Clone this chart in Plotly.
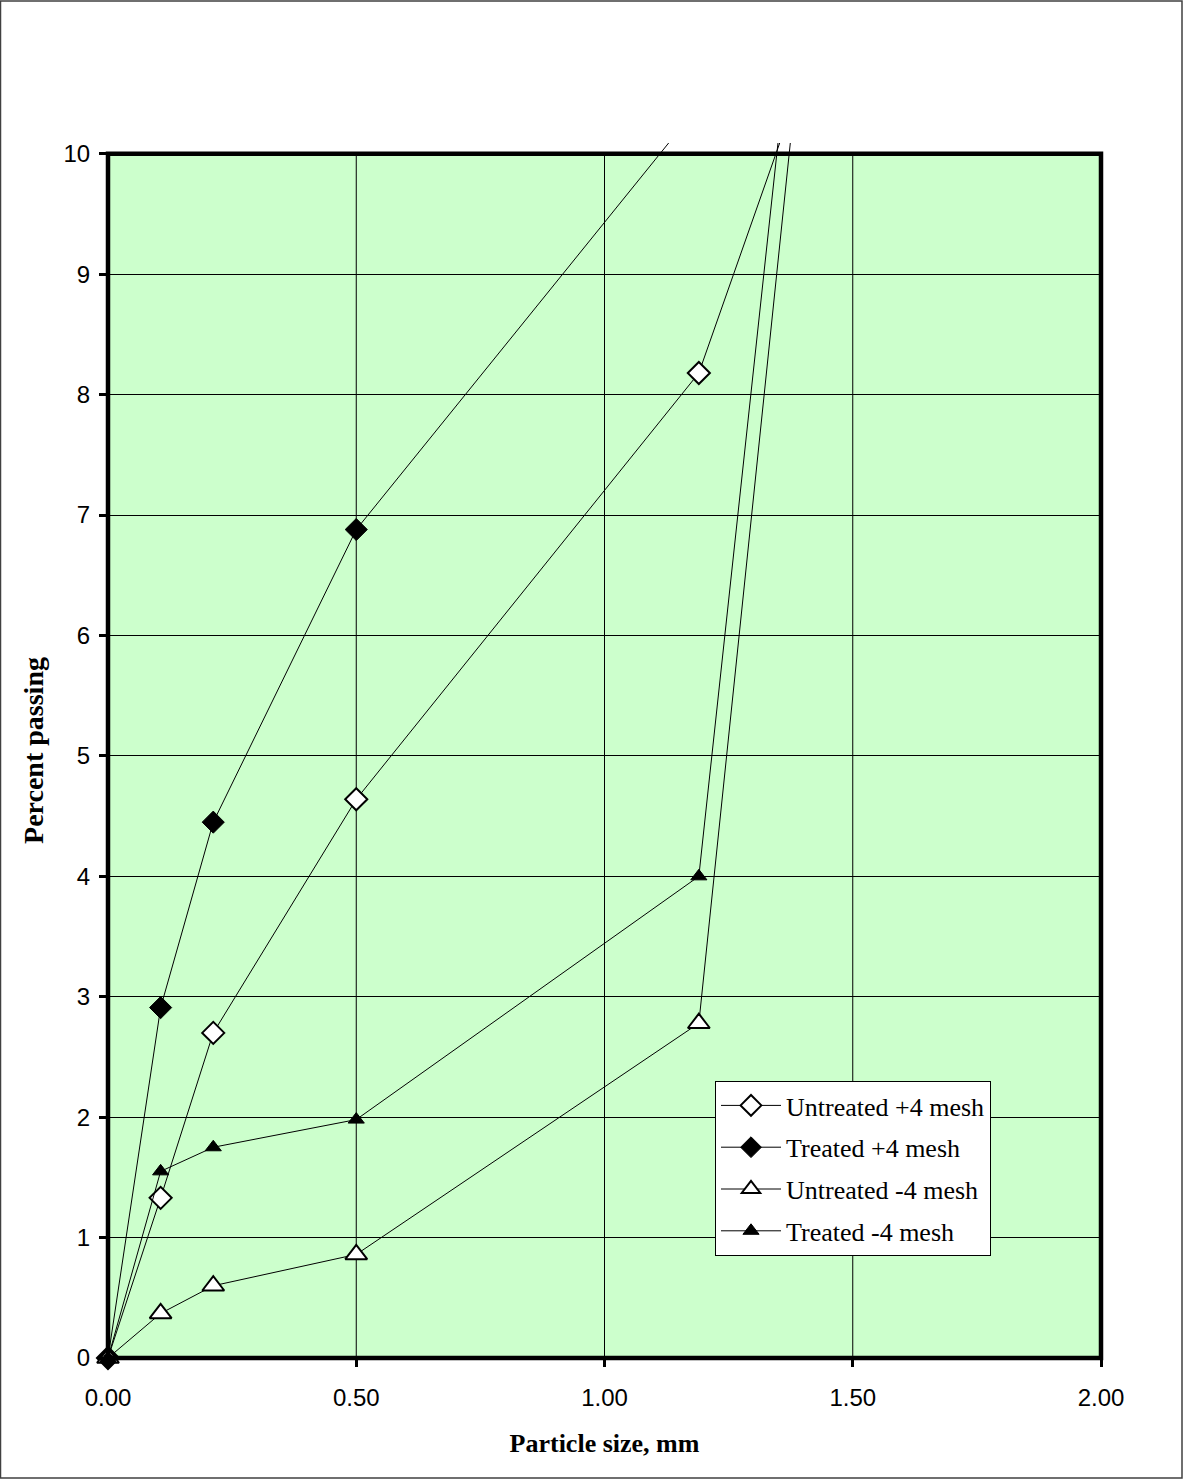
import plotly.graph_objects as go

# Data (particle size in mm, percent passing)
x_pts = [0.0, 0.106, 0.212, 0.5, 1.19, 2.36]
untreated_p4 = [0.0, 1.33, 2.70, 4.64, 8.18, 21.9]
treated_p4_x = [0.0, 0.106, 0.212, 0.5, 1.19]
treated_p4 = [0.0, 2.91, 4.45, 6.88, 10.4]
untreated_m4 = [0.0, 0.37, 0.60, 0.86, 2.78, 49.2]
treated_m4 = [0.0, 1.55, 1.75, 1.98, 4.00, 48.7]

x_ticks = [0, 0.5, 1.0, 1.5, 2.0]
x_ticklabels = ["0.00", "0.50", "1.00", "1.50", "2.00"]
y_ticks = list(range(0, 11))

Y_TOP = 10.09

fig = go.Figure()

common = dict(mode="lines+markers", line=dict(color="black", width=1), cliponaxis=False)

fig.add_trace(go.Scatter(x=x_pts, y=untreated_p4, name="Untreated +4 mesh", legendgroup="a",
                         marker=dict(symbol="diamond", size=17, color="white",
                                     line=dict(color="black", width=2)), **common))
fig.add_trace(go.Scatter(x=treated_p4_x, y=treated_p4, name="Treated +4 mesh", legendgroup="b",
                         marker=dict(symbol="diamond", size=17, color="black",
                                     line=dict(color="black", width=1)), **common))
fig.add_trace(go.Scatter(x=x_pts, y=untreated_m4, name="Untreated -4 mesh", legendgroup="c",
                         marker=dict(symbol="triangle-up", size=19, color="white",
                                     line=dict(color="black", width=2)), **common))
fig.add_trace(go.Scatter(x=x_pts, y=treated_m4, name="Treated -4 mesh", legendgroup="d",
                         marker=dict(symbol="triangle-up", size=14, color="black",
                                     line=dict(color="black", width=1)), **common))

shapes = []
# plot area background
shapes.append(dict(type="rect", xref="x", yref="y", x0=0, x1=2, y0=0, y1=10,
                   fillcolor="#CCFFCC", line=dict(width=0), layer="below"))
# vertical gridlines
for xv in x_ticks[1:-1]:
    shapes.append(dict(type="line", xref="x", yref="y", x0=xv, x1=xv, y0=0, y1=10,
                       line=dict(color="black", width=1), layer="below"))
# plot border (paper coords so it isn't clipped)
shapes.append(dict(type="rect", xref="paper", yref="paper", x0=0, x1=1, y0=0, y1=10 / Y_TOP,
                   line=dict(color="black", width=4.5), fillcolor="rgba(0,0,0,0)", layer="above"))
# outer figure border
shapes.append(dict(type="rect", xref="paper", yref="paper", x0=-107.5/993, x1=1+81/993,
                   y0=-120/1215, y1=1+142/1215,
                   line=dict(color="#404040", width=1.5), fillcolor="rgba(0,0,0,0)"))

fig.update_layout(
    width=1183, height=1479,
    margin=dict(l=108, r=82, t=143, b=121),
    paper_bgcolor="white", plot_bgcolor="white",
    shapes=shapes,
    showlegend=True,
    legend=dict(x=(715-108)/993, y=(1358-1081)/1215, xanchor="left", yanchor="top",
                bgcolor="white", bordercolor="black", borderwidth=1,
                font=dict(family="Liberation Serif, Times New Roman, serif", size=26, color="black"),
                tracegroupgap=5, itemwidth=60),
    xaxis=dict(range=[0, 2], tickvals=x_ticks, ticktext=x_ticklabels,
               showgrid=False, zeroline=False, showline=False,
               ticks="outside", ticklen=8, tickwidth=3, tickcolor="black",
               ticklabelstandoff=10,
               tickfont=dict(family="Liberation Sans, Arial, sans-serif", size=24, color="black"),
               title=dict(text="<b>Particle size, mm</b>", standoff=24,
                          font=dict(family="Liberation Serif, Times New Roman, serif", size=26, color="black"))),
    yaxis=dict(range=[0, Y_TOP], tickvals=y_ticks,
               showgrid=True, gridcolor="black", gridwidth=1, zeroline=False, showline=False,
               ticks="outside", ticklen=8, tickwidth=3, tickcolor="black",
               ticklabelstandoff=4,
               tickfont=dict(family="Liberation Sans, Arial, sans-serif", size=24, color="black"),
               title=dict(text="<b>Percent passing</b>", standoff=11,
                          font=dict(family="Liberation Serif, Times New Roman, serif", size=28, color="black"))),
)

fig.write_html("out.html")
